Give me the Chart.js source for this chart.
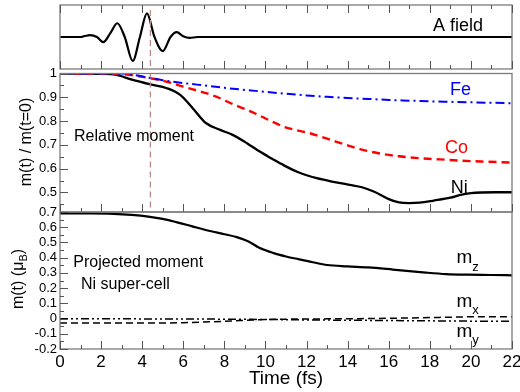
<!DOCTYPE html>
<html>
<head>
<meta charset="utf-8">
<script src="https://cdn.jsdelivr.net/npm/chart.js@4.4.1/dist/chart.umd.min.js"></script>
<style>
  body { margin: 0; background: #fff; }
  #wrap { position: relative; width: 520px; height: 392px; }
  canvas { position: absolute; left: 0; top: 0; }
</style>
</head>
<body>
<div id="wrap">
  <canvas id="fieldChart" width="520" height="392"></canvas>
  <canvas id="relChart" width="520" height="392"></canvas>
  <canvas id="projChart" width="520" height="392"></canvas>
</div>
<script>
// time in fs, shared by all three panels
let xTicks = [0, 2, 4, 6, 8, 10, 12, 14, 16, 18, 20, 22];
let pulseTime = 4.4;

// vector potential A(t), arbitrary units
let fieldTime = [0, 1.0, 1.2, 1.46, 1.8, 2.11, 2.45, 2.79, 3.15, 3.54, 3.89, 4.23, 4.6, 5.0, 5.38, 5.68, 6.0, 6.3, 6.7, 8, 22];
let fieldA = [0, 0, 0.03, 0.06, 0.0, -0.16, 0.12, 0.43, 0.0, -0.75, 0.0, 0.74, 0.0, -0.44, 0.0, 0.15, 0.02, -0.03, 0, 0, 0];

// relative moment m(t)/m(t=0)
let niTime = [0, 1, 2, 2.7, 3.5, 4.4, 5.2, 5.85, 6.5, 7.1, 7.8, 8.4, 9.1, 9.7, 10.3, 10.9, 11.6, 12.5, 13.3, 14.1, 14.7, 15.3, 16.0, 16.5, 17.0, 17.5, 18.2, 19.0, 19.5, 20.0, 20.5, 21.2, 22];
let niRel = [1, 1, 0.999, 0.995, 0.974, 0.954, 0.938, 0.91, 0.85, 0.792, 0.763, 0.742, 0.707, 0.673, 0.643, 0.614, 0.585, 0.56, 0.545, 0.532, 0.522, 0.503, 0.472, 0.458, 0.455, 0.457, 0.466, 0.478, 0.49, 0.497, 0.5, 0.501, 0.501];
let coTime = [0, 2.5, 3.0, 3.5, 4.4, 5.0, 6.0, 7.0, 7.6, 8.5, 9.5, 10.2, 10.9, 11.5, 12.2, 13.0, 14.0, 14.6, 15.5, 16.5, 17.5, 18.5, 19.5, 20.5, 22];
let coRel = [1, 1, 0.998, 0.993, 0.98, 0.97, 0.945, 0.92, 0.903, 0.868, 0.832, 0.803, 0.776, 0.762, 0.748, 0.726, 0.698, 0.682, 0.665, 0.652, 0.644, 0.639, 0.634, 0.63, 0.626];
let feTime = [0, 3, 3.5, 4.4, 5, 6, 7, 8, 9, 10, 11, 12, 13, 14, 15, 16, 17, 18, 19, 20, 21, 22];
let feRel = [1, 1, 0.995, 0.981, 0.972, 0.96, 0.95, 0.94, 0.931, 0.923, 0.915, 0.908, 0.902, 0.897, 0.893, 0.889, 0.886, 0.883, 0.881, 0.879, 0.877, 0.875];
let relTicks = [0.5, 0.6, 0.7, 0.8, 0.9, 1];

// projected moment, Ni super-cell (muB)
let mzTime = [0, 1.5, 2.6, 3.5, 4.3, 5.0, 5.7, 6.4, 7.3, 8.0, 8.6, 9.2, 9.7, 10.4, 11.0, 11.6, 12.3, 13.0, 14.0, 15.0, 16.2, 17.0, 17.8, 18.8, 19.8, 21.0, 22];
let mz = [0.69, 0.69, 0.688, 0.681, 0.67, 0.655, 0.632, 0.607, 0.575, 0.554, 0.535, 0.505, 0.465, 0.43, 0.408, 0.39, 0.37, 0.352, 0.343, 0.336, 0.322, 0.312, 0.302, 0.292, 0.288, 0.286, 0.284];
let mxTime = [0, 3, 6, 8, 9.7, 11, 13, 15, 17, 19, 20.5, 22];
let mx = [-0.03, -0.03, -0.027, -0.018, -0.008, -0.004, -0.002, 0.0, 0.004, 0.009, 0.012, 0.012];
let myTime = [0, 3, 6, 8, 10, 12, 14, 16, 18, 20, 22];
let my = [-0.002, -0.002, -0.003, -0.004, -0.006, -0.009, -0.011, -0.013, -0.015, -0.017, -0.018];
let projTicks = [-0.2, -0.1, 0, 0.1, 0.2, 0.3, 0.4, 0.5, 0.6, 0.7];

const FONT = '"Liberation Sans", Arial, sans-serif';

function points(xs, ys) {
    return xs.map((x, i) => ({x: x, y: ys[i]}));
}

function line(xs, ys, color, width, dash) {
    return {
        data: points(xs, ys),
        borderColor: color,
        borderWidth: width,
        borderDash: dash || [],
        pointRadius: 0,
        fill: false,
        cubicInterpolationMode: "monotone"
    };
}

function pulseLine(top, bottom) {
    return {
        data: [{x: pulseTime, y: top}, {x: pulseTime, y: bottom}],
        borderColor: "#b98a8a",
        borderWidth: 1.3,
        borderDash: [6, 4],
        pointRadius: 0
    };
}

// frame, inward ticks and in-plot labels
const framePlugin = {
    id: "frame",
    afterDatasetsDraw(chart, args, opts) {
        let ctx = chart.ctx;
        let a = chart.chartArea;
        let x = chart.scales.x, y = chart.scales.y;
        ctx.save();
        ctx.strokeStyle = "#7c7c7c";
        ctx.lineWidth = 1.3;
        ctx.strokeRect(a.left, a.top, a.right - a.left, a.bottom - a.top);

        ctx.strokeStyle = "#555";
        ctx.lineWidth = 1;
        ctx.beginPath();
        for (let t = 0; t <= 22; t++) {
            let px = Math.round(x.getPixelForValue(t)) + 0.5;
            let len = t % 2 === 0 ? 8 : 4;
            if (opts.top) { ctx.moveTo(px, a.top); ctx.lineTo(px, a.top + len); }
            if (opts.bottom) { ctx.moveTo(px, a.bottom); ctx.lineTo(px, a.bottom - len); }
        }
        (opts.yTicks || []).forEach(v => {
            let py = Math.round(y.getPixelForValue(v)) + 0.5;
            ctx.moveTo(a.left, py); ctx.lineTo(a.left + 8, py);
            let pm = Math.round(y.getPixelForValue(v - 0.05)) + 0.5;
            if (pm < a.bottom - 1) { ctx.moveTo(a.left, pm); ctx.lineTo(a.left + 4, pm); }
        });
        ctx.stroke();

        ctx.textAlign = "left";
        ctx.textBaseline = "alphabetic";
        (opts.labels || []).forEach(l => {
            let px = x.getPixelForValue(l.t), py = y.getPixelForValue(l.v);
            ctx.fillStyle = l.color || "#000";
            ctx.font = l.size + "px " + FONT;
            ctx.fillText(l.text, px, py);
            if (l.sub) {
                let w = ctx.measureText(l.text).width;
                ctx.font = Math.round(l.size * 0.7) + "px " + FONT;
                ctx.fillText(l.sub, px + w, py + l.size * 0.4);
            }
        });

        if (opts.yTitle) {
            let yt = opts.yTitle;
            ctx.translate(yt.x, yt.y);
            ctx.rotate(-Math.PI / 2);
            ctx.fillStyle = "#000";
            ctx.textBaseline = "middle";
            let big = "16px " + FONT, small = "11px " + FONT;
            ctx.font = big;
            let w1 = ctx.measureText(yt.text).width;
            let w3 = yt.after ? ctx.measureText(yt.after).width : 0;
            ctx.font = small;
            let w2 = yt.sub ? ctx.measureText(yt.sub).width : 0;
            let x0 = -(w1 + w2 + w3) / 2;
            ctx.font = big;
            ctx.fillText(yt.text, x0, 0);
            if (yt.sub) {
                ctx.font = small;
                ctx.fillText(yt.sub, x0 + w1, 5);
                ctx.font = big;
                ctx.fillText(yt.after, x0 + w1 + w2, 0);
            }
        }

        if (opts.xTitle) {
            ctx.setTransform(1, 0, 0, 1, 0, 0);
            ctx.fillStyle = "#000";
            ctx.textAlign = "center";
            ctx.textBaseline = "alphabetic";
            ctx.font = "19px " + FONT;
            ctx.fillText(opts.xTitle, (a.left + a.right) / 2, 384);
        }
        ctx.restore();
    }
};

function hiddenX() {
    return {type: "linear", min: 0, max: 22, display: false};
}

function leftY(min, max, ticks) {
    return {
        type: "linear",
        min: min,
        max: max,
        grid: {display: false, drawTicks: false},
        border: {display: false},
        afterBuildTicks: s => { s.ticks = ticks.map(v => ({value: v})); },
        afterFit: s => { s.width = 60; s.paddingTop = 0; s.paddingBottom = 0; },
        ticks: {
            color: "#000",
            padding: 3,
            autoSkip: false,
            font: {family: FONT, size: 13},
            callback: v => String(Math.round(v * 10) / 10)
        }
    };
}

const common = {
    responsive: false,
    animation: false,
    devicePixelRatio: 1,
    events: []
};

new Chart(document.getElementById("fieldChart"), {
    type: "line",
    data: {
        datasets: [
            pulseLine(0.84, -1),
            line(fieldTime, fieldA, "#000", 2.2)
        ]
    },
    options: Object.assign({}, common, {
        layout: {padding: {left: 60, right: 8, top: 5, bottom: 323}},
        scales: {x: hiddenX(), y: {type: "linear", min: -1, max: 1, display: false}},
        plugins: {
            legend: {display: false},
            tooltip: {enabled: false},
            frame: {
                top: true,
                bottom: true,
                labels: [{text: "A field", t: 18.15, v: 0.19, size: 18}]
            }
        }
    }),
    plugins: [framePlugin]
});

new Chart(document.getElementById("relChart"), {
    type: "line",
    data: {
        datasets: [
            pulseLine(1.05, 0.3),
            line(feTime, feRel, "#0000ff", 2, [9, 4, 2, 4]),
            line(coTime, coRel, "#ff0000", 2.4, [8, 5]),
            line(niTime, niRel, "#000", 2.3)
        ]
    },
    options: Object.assign({}, common, {
        layout: {padding: {left: 0, right: 8, top: 73.5, bottom: 180}},
        scales: {x: hiddenX(), y: leftY(0.418, 1, relTicks)},
        plugins: {
            legend: {display: false},
            tooltip: {enabled: false},
            frame: {
                bottom: true,
                yTicks: relTicks,
                labels: [
                    {text: "Fe", t: 18.98, v: 0.91, size: 18, color: "#0000ff"},
                    {text: "Co", t: 18.74, v: 0.666, size: 18, color: "#ff0000"},
                    {text: "Ni", t: 19.02, v: 0.498, size: 18},
                    {text: "Relative moment", t: 0.68, v: 0.718, size: 16}
                ],
                yTitle: {text: "m(t) / m(t=0)", x: 27, y: 142}
            }
        }
    }),
    plugins: [framePlugin]
});

new Chart(document.getElementById("projChart"), {
    type: "line",
    data: {
        datasets: [
            line(mzTime, mz, "#000", 2.2),
            line(mxTime, mx, "#000", 1.5, [7, 4]),
            line(myTime, my, "#000", 1.5, [8, 3, 2, 3, 2, 3])
        ]
    },
    options: Object.assign({}, common, {
        layout: {padding: {left: 0, right: 8, top: 212, bottom: 0}},
        scales: {
            x: {
                type: "linear",
                min: 0,
                max: 22,
                grid: {display: false, drawTicks: false},
                border: {display: false},
                afterBuildTicks: s => { s.ticks = xTicks.map(v => ({value: v})); },
                afterFit: s => { s.height = 43; s.paddingLeft = 0; s.paddingRight = 0; },
                ticks: {
                    color: "#000",
                    padding: 3,
                    maxRotation: 0,
                    autoSkip: false,
                    font: {family: FONT, size: 17}
                }
            },
            y: leftY(-0.2, 0.7, projTicks)
        },
        plugins: {
            legend: {display: false},
            tooltip: {enabled: false},
            frame: {
                bottom: true,
                yTicks: projTicks,
                xTitle: "Time (fs)",
                labels: [
                    {text: "Projected moment", t: 0.65, v: 0.337, size: 16},
                    {text: "Ni super-cell", t: 1.02, v: 0.194, size: 16},
                    {text: "m", sub: "z", t: 19.3, v: 0.362, size: 19},
                    {text: "m", sub: "x", t: 19.3, v: 0.078, size: 19},
                    {text: "m", sub: "y", t: 19.3, v: -0.119, size: 19}
                ],
                yTitle: {text: "m(t) (\u03bc", sub: "B", after: ")", x: 19, y: 279}
            }
        }
    }),
    plugins: [framePlugin]
});
</script>
</body>
</html>
